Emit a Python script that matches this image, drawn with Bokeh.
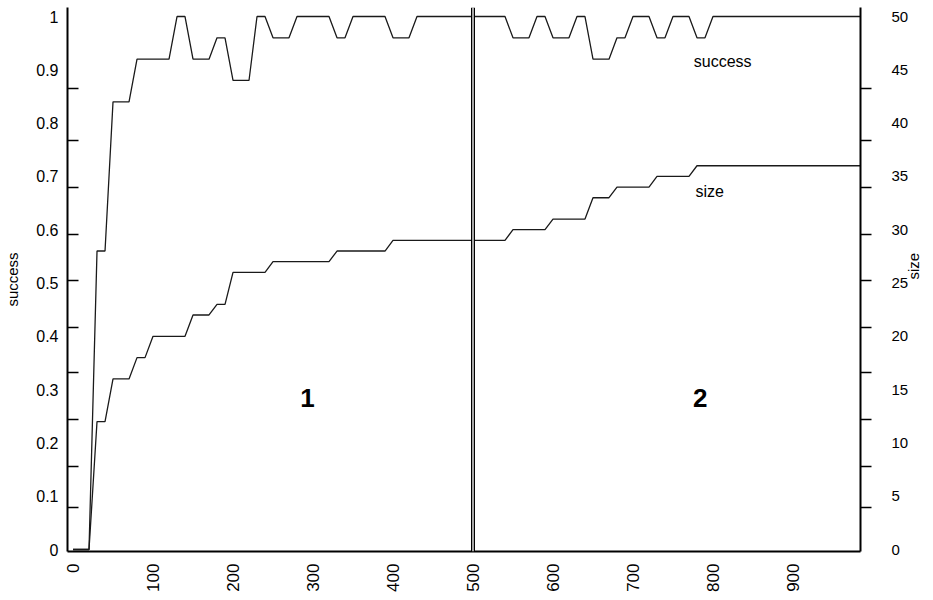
import math
from bokeh.plotting import figure
from bokeh.models import (Range1d, LinearAxis, FixedTicker, CustomJSTickFormatter,
                          Span, Label)
from bokeh.embed import file_html
from bokeh.resources import INLINE

# ---------------- data ----------------
iterations = list(range(0, 1000, 10))

success = [
    0, 0, 0, 0.56, 0.56, 0.84, 0.84, 0.84, 0.92, 0.92,          # 0-90
    0.92, 0.92, 0.92, 1, 1, 0.92, 0.92, 0.92, 0.96, 0.96,       # 100-190
    0.88, 0.88, 0.88, 1, 1, 0.96, 0.96, 0.96, 1, 1,             # 200-290
    1, 1, 1, 0.96, 0.96, 1, 1, 1, 1, 1,                         # 300-390
    0.96, 0.96, 0.96, 1, 1, 1, 1, 1, 1, 1,                      # 400-490
    1, 1, 1, 1, 1, 0.96, 0.96, 0.96, 1, 1,                      # 500-590
    0.96, 0.96, 0.96, 1, 1, 0.92, 0.92, 0.92, 0.96, 0.96,       # 600-690
    1, 1, 1, 0.96, 0.96, 1, 1, 1, 0.96, 0.96,                   # 700-790
    1, 1, 1, 1, 1, 1, 1, 1, 1, 1,                               # 800-890
    1, 1, 1, 1, 1, 1, 1, 1, 1, 1,                               # 900-990
]

size = [
    0, 0, 0, 12, 12, 16, 16, 16, 18, 18,                        # 0-90
    20, 20, 20, 20, 20, 22, 22, 22, 23, 23,                     # 100-190
    26, 26, 26, 26, 26, 27, 27, 27, 27, 27,                     # 200-290
    27, 27, 27, 28, 28, 28, 28, 28, 28, 28,                     # 300-390
    29, 29, 29, 29, 29, 29, 29, 29, 29, 29,                     # 400-490
    29, 29, 29, 29, 29, 30, 30, 30, 30, 30,                     # 500-590
    31, 31, 31, 31, 31, 33, 33, 33, 34, 34,                     # 600-690
    34, 34, 34, 35, 35, 35, 35, 35, 36, 36,                     # 700-790
    36, 36, 36, 36, 36, 36, 36, 36, 36, 36,                     # 800-890
    36, 36, 36, 36, 36, 36, 36, 36, 36, 36,                     # 900-990
]

x_ticks = [0, 100, 200, 300, 400, 500, 600, 700, 800, 900]
success_ticks = [0, 0.1, 0.2, 0.3, 0.4, 0.5, 0.6, 0.7, 0.8, 0.9, 1.0]
success_tick_marks = [0.079, 0.156, 0.244, 0.332, 0.4165, 0.505, 0.591, 0.679, 0.767, 0.865]
size_ticks = [0, 5, 10, 15, 20, 25, 30, 35, 40, 45, 50]
size_tick_marks = [v * 50 for v in success_tick_marks]

phase_boundary = 500
phase_labels = ["1", "2"]
phase_label_x = [293, 784]
phase_label_y = 0.285

FONT = "Liberation Sans"

# ---------------- figure ----------------
p = figure(width=933, height=598,
           x_range=Range1d(-6.9, 984.4), y_range=Range1d(-0.00375, 1.0169),
           output_backend="svg", toolbar_location=None,
           min_border_top=7, min_border_left=67, min_border_right=73,
           min_border_bottom=47)
p.extra_y_ranges = {"size": Range1d(-0.1876, 50.845)}
p.grid.visible = False
p.outline_line_color = None
p.background_fill_color = "white"
p.border_fill_color = "white"

# x axis
xa = p.xaxis[0]
xa.ticker = FixedTicker(ticks=x_ticks)
xa.major_tick_line_color = None
xa.minor_tick_line_color = None
xa.major_tick_out = 0
xa.major_tick_in = 0
xa.axis_line_width = 2
xa.axis_line_color = "black"
xa.major_label_orientation = math.pi / 2
xa.major_label_standoff = 12
xa.major_label_text_font = FONT
xa.major_label_text_font_size = "17px"
xa.major_label_text_color = "black"

# left axis (success)
ya = p.yaxis[0]
ya.ticker = FixedTicker(ticks=success_ticks, minor_ticks=success_tick_marks)
ya.formatter = CustomJSTickFormatter(code="return String(Math.round(tick * 10) / 10);")
ya.major_tick_line_color = None
ya.major_tick_out = 0
ya.major_tick_in = 0
ya.minor_tick_line_color = "black"
ya.minor_tick_line_width = 1.5
ya.minor_tick_in = 11
ya.minor_tick_out = 0
ya.axis_line_width = 2
ya.axis_line_color = "black"
ya.major_label_standoff = 9
ya.major_label_text_font = FONT
ya.major_label_text_font_size = "16px"
ya.major_label_text_color = "black"
ya.axis_label = "success"
ya.axis_label_text_font = FONT
ya.axis_label_text_font_style = "normal"
ya.axis_label_text_font_size = "15px"
ya.axis_label_text_color = "black"
ya.axis_label_standoff = 12

# right axis (size)
ra = LinearAxis(y_range_name="size")
ra.ticker = FixedTicker(ticks=size_ticks, minor_ticks=size_tick_marks)
ra.major_tick_line_color = None
ra.major_tick_out = 0
ra.major_tick_in = 0
ra.minor_tick_line_color = "black"
ra.minor_tick_line_width = 1.5
ra.minor_tick_in = 0
ra.minor_tick_out = 11
ra.axis_line_width = 2
ra.axis_line_color = "black"
ra.major_label_standoff = 20
ra.major_label_text_font = FONT
ra.major_label_text_font_size = "15px"
ra.major_label_text_color = "black"
ra.axis_label = "size"
ra.axis_label_text_font = FONT
ra.axis_label_text_font_style = "normal"
ra.axis_label_text_font_size = "15px"
ra.axis_label_text_color = "black"
ra.axis_label_standoff = 2
if "axis_label_orientation" in ra.properties():
    ra.axis_label_orientation = math.pi / 2
p.add_layout(ra, "right")

# phase boundary (double line)
p.add_layout(Span(location=phase_boundary, dimension="height",
                  line_color="black", line_width=4))
p.add_layout(Span(location=phase_boundary, dimension="height",
                  line_color="white", line_width=1.3))

# series
p.line(iterations, success, line_color="#1a1a1a", line_width=1.3)
p.line(iterations, size, line_color="#1a1a1a", line_width=1.3, y_range_name="size")

# in-plot labels
p.add_layout(Label(x=776, y=0.915, text="success", text_font=FONT,
                   text_font_size="16px", text_baseline="middle", text_align="left",
                   text_color="black"))
p.add_layout(Label(x=778, y=33.6, y_range_name="size", text="size", text_font=FONT,
                   text_font_size="16px", text_baseline="middle", text_align="left",
                   text_color="black"))
for t, xv in zip(phase_labels, phase_label_x):
    p.add_layout(Label(x=xv, y=phase_label_y, text=t, text_font=FONT,
                       text_font_size="26px", text_font_style="bold",
                       text_baseline="middle", text_align="center",
                       text_color="black"))

open("out.html", "w").write(file_html(p, INLINE))
